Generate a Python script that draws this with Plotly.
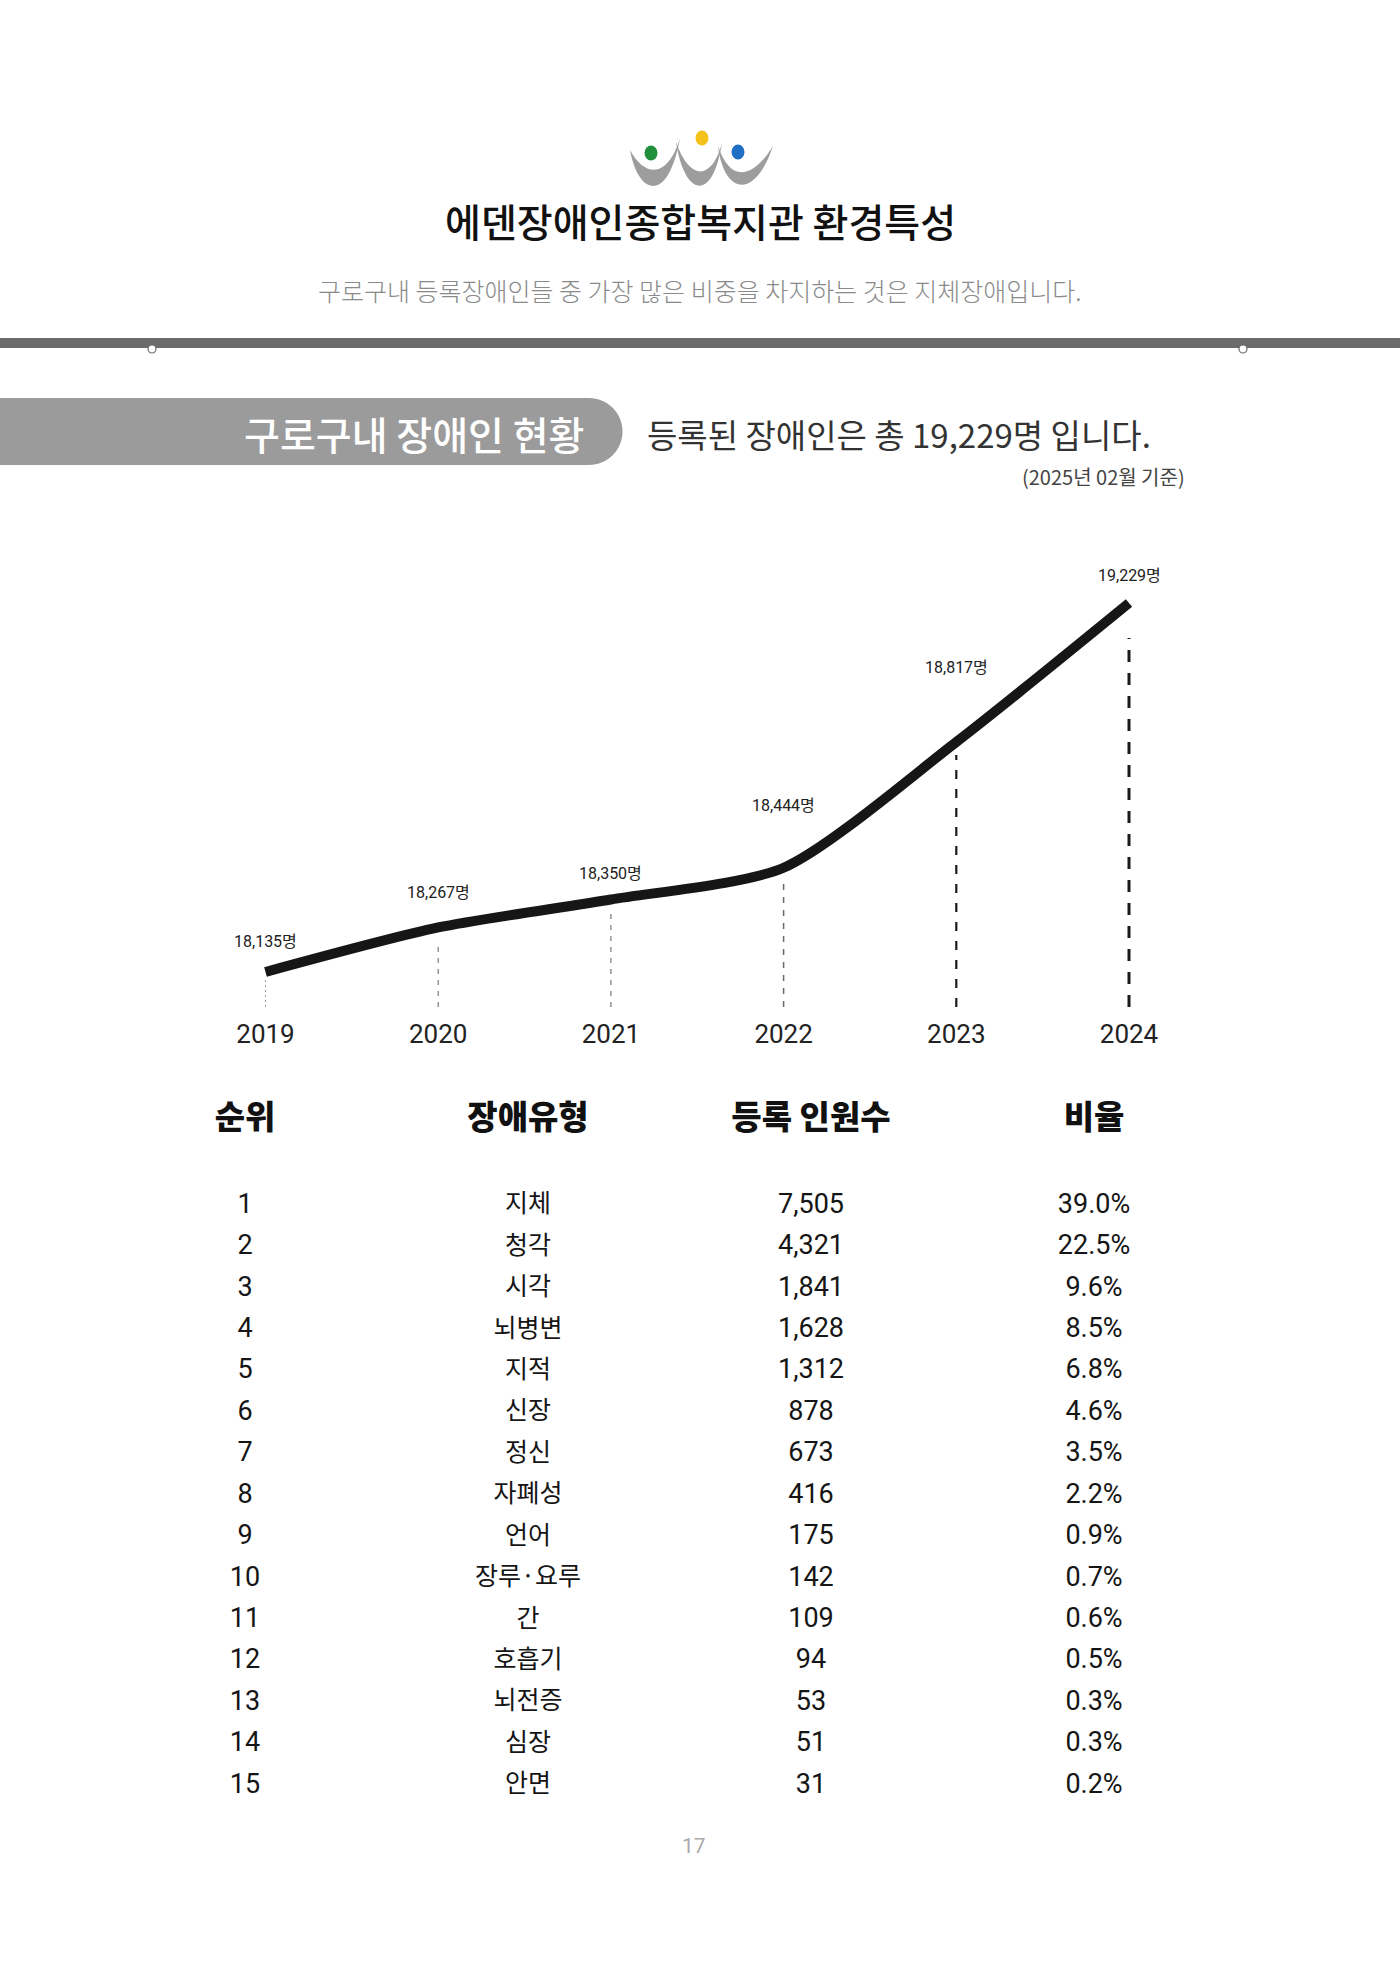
import plotly.graph_objects as go

# ---------------- data ----------------
years = [2019, 2020, 2021, 2022, 2023, 2024]
registered = [18135, 18267, 18350, 18444, 18817, 19229]

ranks = list(range(1, 16))
disability_types = ["지체", "청각", "시각", "뇌병변", "지적", "신장", "정신", "자폐성",
                    "언어", "장루·요루", "간", "호흡기", "뇌전증", "심장", "안면"]
counts = [7505, 4321, 1841, 1628, 1312, 878, 673, 416, 175, 142, 109, 94, 53, 51, 31]
ratios = [39.0, 22.5, 9.6, 8.5, 6.8, 4.6, 3.5, 2.2, 0.9, 0.7, 0.6, 0.5, 0.3, 0.3, 0.2]
table_headers = ["순위", "장애유형", "등록 인원수", "비율"]

# ---------------- layout constants ----------------
W, H = 1400, 1980
KR = "Noto Sans CJK KR"
NUM = "Roboto, Noto Sans CJK KR"

# chart pixel mapping
x_first_px, x_step_px = 265.5, 172.7
y_lo_px, y_hi_px = 972, 603            # pixel rows of first/last values
plot_bottom_px, plot_top_px = 1007, 560
k = (y_lo_px - y_hi_px) / (registered[-1] - registered[0])  # px per person
y_min = registered[0] - (plot_bottom_px - y_lo_px) / k
y_max = registered[-1] + (y_hi_px - plot_top_px) / k
x_r0 = years[0] - x_first_px / x_step_px
x_r1 = x_r0 + W / x_step_px

label_lift = [31, 35, 26, 62, 74, 28]
dash_gap = [6, 15, 10, 11, 13, 35]
dash_color = ["#a0a0a0", "#7a7a7a", "#7a7a7a", "#6a6a6a", "#1a1a1a", "#1a1a1a"]
dash_width = [1, 1.2, 1.2, 1.5, 2.2, 3]
dash_style = ["2px,3px", "5px,6px", "5px,6px", "6px,7px", "9px,10px", "12px,11px"]

# table mapping
col_first_px, col_step_px = 245, 283
row_first_px, row_step_px = 1206, 41.43
header_px = 1121

fig = go.Figure()

# ---- line chart ----
fig.add_trace(go.Scatter(
    x=years, y=registered, mode="lines",
    line=dict(color="#161616", width=10, shape="spline", smoothing=0.7),
    hoverinfo="skip", xaxis="x", yaxis="y", showlegend=False))

shapes = []
annotations = []
for i, (yr, v) in enumerate(zip(years, registered)):
    shapes.append(dict(type="line", xref="x", yref="y", layer="below",
                       x0=yr, x1=yr, y0=y_min, y1=v - dash_gap[i] / k,
                       line=dict(color=dash_color[i], width=dash_width[i], dash=dash_style[i])))
    annotations.append(dict(x=yr, y=v, xref="x", yref="y", yshift=label_lift[i],
                            text=f"{v:,}명", showarrow=False,
                            font=dict(family=NUM, size=16, color="#222")))

# ---- table as text traces ----
col_text = [
    [str(r) for r in ranks],
    disability_types,
    [f"{c:,}" for c in counts],
    [f"{p:.1f}%" for p in ratios],
]
col_fonts = [
    dict(family=NUM, size=27, color="#151515"),
    dict(family=KR, size=25, color="#151515"),
    dict(family=NUM, size=27, color="#151515"),
    dict(family=NUM, size=27, color="#151515"),
]
for ci, texts in enumerate(col_text):
    fig.add_trace(go.Scatter(
        x=[ci] * len(ranks), y=ranks, mode="text", text=texts,
        textposition="middle center", textfont=col_fonts[ci],
        cliponaxis=False, hoverinfo="skip", showlegend=False,
        xaxis="x2", yaxis="y2"))
header_row = 1 + (header_px - row_first_px) / row_step_px
fig.add_trace(go.Scatter(
    x=list(range(len(table_headers))), y=[header_row] * len(table_headers),
    mode="text", text=table_headers, textposition="middle center",
    textfont=dict(family=KR, size=33, color="#111", weight=900),
    cliponaxis=False, hoverinfo="skip", showlegend=False, xaxis="x2", yaxis="y2"))

# ---- decoration (page pixel coordinates on x3/y3) ----
def px(**kw):
    d = dict(xref="x3", yref="y3")
    d.update(kw)
    return d

# top gray rule with small circles
shapes.append(px(type="rect", x0=0, x1=W, y0=338, y1=348, line=dict(width=0), fillcolor="#6b6b6b"))
for cx in (152, 1243):
    shapes.append(px(type="circle", x0=cx - 4, x1=cx + 4, y0=345, y1=353,
                     fillcolor="white", line=dict(color="#6b6b6b", width=1.2)))

# section pill
shapes.append(px(type="path",
                 path="M0,398 L589,398 C607.5,398 622.5,413 622.5,431.5 "
                      "C622.5,450 607.5,465 589,465 L0,465 Z",
                 fillcolor="#9b9b9b", line=dict(width=0)))

# logo: three gray crescents + three dots
crescents = [
    "M630,150 C638,195 668,205 680,138 C668,178 645,178 630,150 Z",
    "M676,142 C684,195 712,205 722,143 C712,180 690,182 676,142 Z",
    "M718,146 C724,195 755,200 773,146 C752,180 730,182 718,146 Z",
]
for p in crescents:
    shapes.append(px(type="path", path=p, fillcolor="#9d9d9d", line=dict(width=0)))
for (cx, cy, col) in [(651, 153, "#1f8f3c"), (702, 138, "#f4c21a"), (738, 152, "#1f6fc4")]:
    shapes.append(px(type="circle", x0=cx - 6.5, x1=cx + 6.5, y0=cy - 7.5, y1=cy + 7.5,
                     fillcolor=col, line=dict(width=0)))

def txt(x, y, t, size, color, weight=400, family=KR, xanchor="center"):
    annotations.append(px(x=x, y=y, text=t, showarrow=False, xanchor=xanchor, yanchor="middle",
                          font=dict(family=family, size=size, color=color, weight=weight)))

txt(700, 220, "에덴장애인종합복지관 환경특성", 39, "#111", 500)
txt(699, 290, "구로구내 등록장애인들 중 가장 많은 비중을 차지하는 것은 지체장애입니다.", 25, "#8a8a8a", 300)
txt(414, 433, "구로구내 장애인 현황", 39, "white", 500)
txt(645, 434, f"등록된 장애인은 총 {registered[-1]:,}명 입니다.", 33, "#333", 400, xanchor="left")
txt(1187, 476, "(2025년 02월 기준)", 20, "#444", 400, xanchor="right")
txt(694, 1846, "17", 21, "#aaaaaa", 400, family=NUM)

fig.update_layout(
    width=W, height=H, margin=dict(l=0, r=0, t=0, b=0),
    paper_bgcolor="white", plot_bgcolor="rgba(0,0,0,0)",
    showlegend=False, shapes=shapes, annotations=annotations,
    xaxis=dict(domain=[0, 1], range=[x_r0, x_r1], tickvals=years,
               ticktext=[str(y) for y in years], ticks="", showgrid=False,
               zeroline=False, showline=False, ticklabelstandoff=9,
               tickfont=dict(family=NUM, size=26, color="#222"), fixedrange=True),
    yaxis=dict(domain=[1 - plot_bottom_px / H, 1 - plot_top_px / H], range=[y_min, y_max],
               visible=False, fixedrange=True),
    xaxis2=dict(domain=[0, 1], range=[-col_first_px / col_step_px,
                                      -col_first_px / col_step_px + W / col_step_px],
                visible=False, anchor="y2"),
    yaxis2=dict(domain=[0, 1], range=[1 + (H - row_first_px) / row_step_px,
                                      1 - row_first_px / row_step_px],
                visible=False, anchor="x2"),
    xaxis3=dict(domain=[0, 1], range=[0, W], visible=False, anchor="y3"),
    yaxis3=dict(domain=[0, 1], range=[H, 0], visible=False, anchor="x3"),
)

fig.write_html("out.html")
